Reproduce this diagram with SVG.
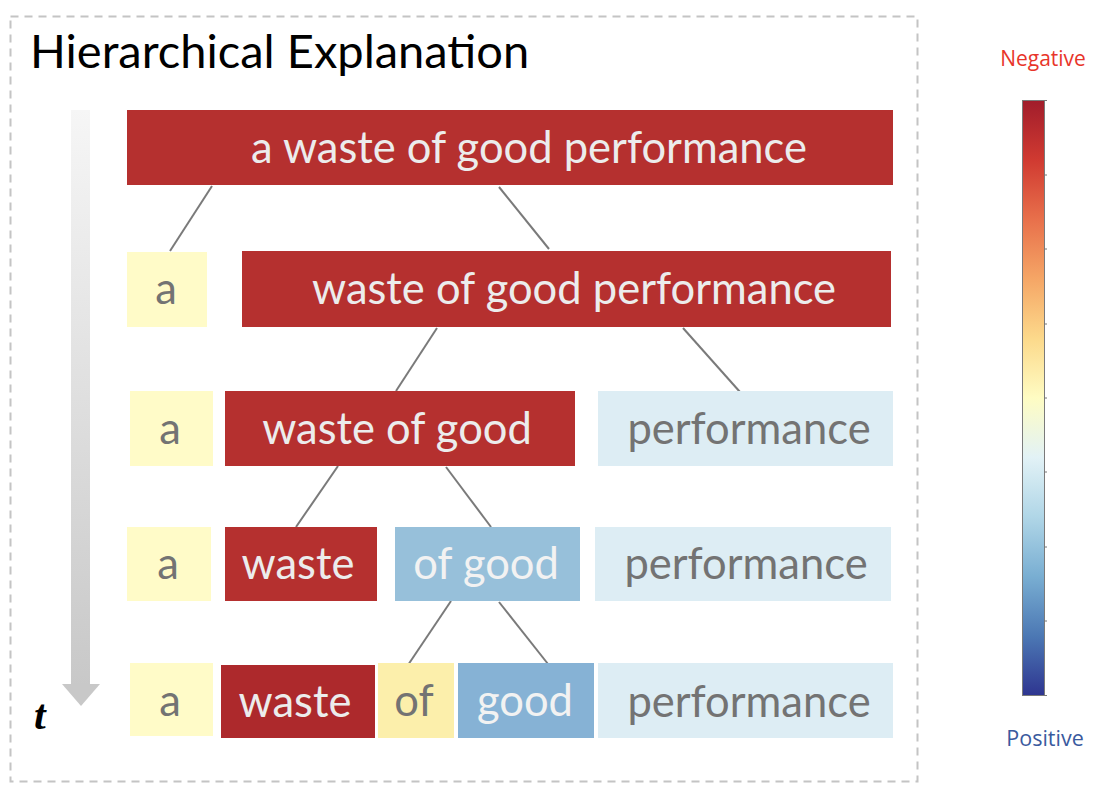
<svg xmlns="http://www.w3.org/2000/svg" width="1118" height="802" viewBox="0 0 1118 802">
  <defs>
    <linearGradient id="tgrad" x1="0" y1="0" x2="0" y2="1">
      <stop offset="0" stop-color="#f6f6f6"/>
      <stop offset="1" stop-color="#c8c8c8"/>
    </linearGradient>
    <linearGradient id="cmap" x1="0" y1="0" x2="0" y2="1">
      <stop offset="0" stop-color="#a11d2b"/>
      <stop offset="0.1" stop-color="#d03a31"/>
      <stop offset="0.2" stop-color="#e8704b"/>
      <stop offset="0.3" stop-color="#f5a666"/>
      <stop offset="0.4" stop-color="#fcd98b"/>
      <stop offset="0.5" stop-color="#fefcc3"/>
      <stop offset="0.6" stop-color="#e2f2f6"/>
      <stop offset="0.7" stop-color="#b0d6e7"/>
      <stop offset="0.8" stop-color="#79aed2"/>
      <stop offset="0.9" stop-color="#4c78b4"/>
      <stop offset="1" stop-color="#2e3590"/>
    </linearGradient>
  </defs>
  <style>
    .lbl { font-family: Lato, "Open Sans", "Liberation Sans", sans-serif; font-size: 43.5px; text-anchor: middle; }
    .lt { fill: #ececec; }
    .dk { fill: #737373; }
    .red { fill: #b5302f; }
    .yel { fill: #fffbc8; }
    .lb { fill: #ddedf4; }
    .edge { stroke: #7a7a7a; stroke-width: 2; fill: none; }
  </style>
  <rect width="1118" height="802" fill="#ffffff"/>
  <rect x="10.5" y="16.5" width="907" height="765" fill="none" stroke="#c4c4c4" stroke-width="2" stroke-dasharray="8,6"/>
  <text x="30" y="68" font-family="Lato, 'Open Sans', 'Liberation Sans', sans-serif" font-size="47" fill="#000">Hierarchical Explanation</text>

  <g id="time-arrow">
    <rect x="71" y="110" width="19" height="576" fill="url(#tgrad)"/>
    <polygon points="62,684 100,684 81,706" fill="#c8c8c8"/>
    <text x="34" y="729" font-family="'Liberation Serif', serif" font-style="italic" font-weight="bold" font-size="42" fill="#000">t</text>
  </g>

  <g id="connectors">
    <line class="edge" x1="212" y1="186" x2="170" y2="251"/>
    <line class="edge" x1="499" y1="187" x2="549" y2="249"/>
    <line class="edge" x1="437" y1="328" x2="396" y2="391"/>
    <line class="edge" x1="683" y1="328" x2="740" y2="392"/>
    <line class="edge" x1="338" y1="466" x2="296" y2="527"/>
    <line class="edge" x1="446" y1="467" x2="491" y2="527"/>
    <line class="edge" x1="451" y1="601" x2="408" y2="665"/>
    <line class="edge" x1="499" y1="602" x2="548" y2="664"/>
  </g>

  <g id="r1-all">
    <rect class="red" x="127" y="110" width="766" height="75"/>
    <text class="lbl lt" x="529" y="163">a waste of good performance</text>
  </g>

  <g id="r2-a">
    <rect class="yel" x="127" y="252" width="80" height="75"/>
    <text class="lbl dk" x="166" y="304">a</text>
  </g>
  <g id="r2-rest">
    <rect class="red" x="242" y="251" width="649" height="76"/>
    <text class="lbl lt" x="574" y="304">waste of good performance</text>
  </g>

  <g id="r3-a">
    <rect class="yel" x="130" y="391" width="83" height="75"/>
    <text class="lbl dk" x="170" y="444">a</text>
  </g>
  <g id="r3-wog">
    <rect class="red" x="225" y="391" width="350" height="75"/>
    <text class="lbl lt" x="397" y="444">waste of good</text>
  </g>
  <g id="r3-perf">
    <rect class="lb" x="598" y="391" width="295" height="75"/>
    <text class="lbl dk" x="749" y="444">performance</text>
  </g>

  <g id="r4-a">
    <rect class="yel" x="127" y="527" width="84" height="74"/>
    <text class="lbl dk" x="168" y="579">a</text>
  </g>
  <g id="r4-waste">
    <rect class="red" x="225" y="527" width="152" height="74"/>
    <text class="lbl lt" x="298" y="579">waste</text>
  </g>
  <g id="r4-ofgood">
    <rect x="395" y="527" width="185" height="74" fill="#97c0da"/>
    <text class="lbl" x="486" y="579" fill="#f2f2f2">of good</text>
  </g>
  <g id="r4-perf">
    <rect class="lb" x="595" y="527" width="296" height="74"/>
    <text class="lbl dk" x="746" y="579">performance</text>
  </g>

  <g id="r5-a">
    <rect class="yel" x="130" y="663" width="83" height="73"/>
    <text class="lbl dk" x="170" y="716">a</text>
  </g>
  <g id="r5-waste">
    <rect x="221" y="665" width="154" height="73" fill="#ad292c"/>
    <text class="lbl lt" x="295" y="717">waste</text>
  </g>
  <g id="r5-of">
    <rect x="378" y="663" width="76" height="75" fill="#fcefab"/>
    <text class="lbl dk" x="414" y="716">of</text>
  </g>
  <g id="r5-good">
    <rect x="458" y="663" width="136" height="75" fill="#86b2d5"/>
    <text class="lbl" x="525" y="716" fill="#f2f2f2">good</text>
  </g>
  <g id="r5-perf">
    <rect class="lb" x="598" y="663" width="295" height="75"/>
    <text class="lbl dk" x="749" y="717">performance</text>
  </g>

  <g id="colorbar">
    <text x="1043" y="66" font-family="'Open Sans', 'Liberation Sans', sans-serif" font-size="21" fill="#e8352a" text-anchor="middle">Negative</text>
    <rect x="1022.5" y="100.5" width="22" height="595" fill="url(#cmap)" stroke="#7a7a7a" stroke-width="1"/>
    <g stroke="#777" stroke-width="1">
      <line x1="1044.5" y1="100.5" x2="1047" y2="100.5"/>
      <line x1="1044.5" y1="175" x2="1047" y2="175"/>
      <line x1="1044.5" y1="249" x2="1047" y2="249"/>
      <line x1="1044.5" y1="324" x2="1047" y2="324"/>
      <line x1="1044.5" y1="398" x2="1047" y2="398"/>
      <line x1="1044.5" y1="472" x2="1047" y2="472"/>
      <line x1="1044.5" y1="547" x2="1047" y2="547"/>
      <line x1="1044.5" y1="621" x2="1047" y2="621"/>
      <line x1="1044.5" y1="695.5" x2="1047" y2="695.5"/>
    </g>
    <text x="1045" y="746" font-family="'Open Sans', 'Liberation Sans', sans-serif" font-size="21.5" fill="#3a5a9e" text-anchor="middle">Positive</text>
  </g>
</svg>
